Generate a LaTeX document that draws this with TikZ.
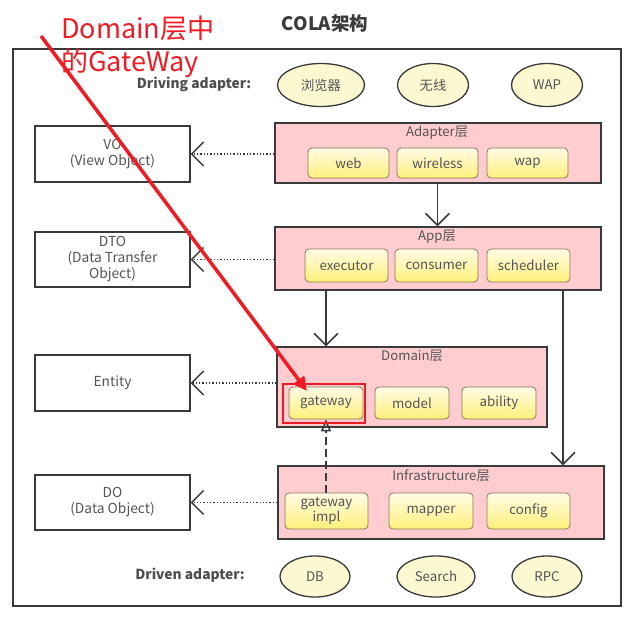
\documentclass[tikz,border=0pt]{standalone}
\usepackage{fontspec}
\setmainfont{Noto Sans CJK SC}
\usetikzlibrary{arrows.meta,shapes.geometric,calc}
\definecolor{txt}{HTML}{555555}
\definecolor{edge}{HTML}{3A3A3A}
\definecolor{layerfill}{HTML}{FFCCCF}
\definecolor{ytop}{HTML}{FFFBE6}
\definecolor{ybot}{HTML}{FFF07A}
\definecolor{yedge}{HTML}{8A7A55}
\definecolor{ellfill}{HTML}{FCF8D2}
\definecolor{redmark}{HTML}{EE1C25}
\tikzset{
  layer/.style={draw=edge, line width=1.3pt, fill=layerfill, inner sep=0pt},
  layertitle/.style={text=txt, font=\fontsize{13.2}{15}\selectfont},
  comp/.style={draw=yedge, line width=0.8pt, rounded corners=4pt, top color=ytop, bottom color=ybot,
     text=txt, font=\fontsize{13.3}{15}\selectfont, align=center, inner sep=0pt},
  objbox/.style={draw=edge, line width=1.2pt, minimum width=155pt, text=txt,
     font=\fontsize{13.8}{16}\selectfont, align=center, inner sep=0pt},
  adapt/.style={ellipse, draw=edge, line width=1.3pt, fill=ellfill, text=txt,
     font=\fontsize{13.3}{15}\selectfont, inner sep=0pt, minimum height=43pt},
  bold label/.style={text=edge!90, font=\bfseries\fontsize{13.8}{16}\selectfont},
  barb/.tip={Straight Barb[length=12pt,width=24pt,line width=1.5pt]},
  flow/.style={draw=edge, line width=1.4pt, -barb},
  dep/.style={draw=edge, line width=1.3pt, dotted, -barb},
  impl/.style={draw=edge, line width=1.4pt, dash pattern=on 8pt off 4pt, -{Triangle[open,length=12pt,width=10pt,line width=1.5pt]}},
}
\begin{document}
\begin{tikzpicture}[x=1pt,y=-1pt]
\useasboundingbox (0,0) rectangle (631,619);
\fill[white] (0,0) rectangle (631,619);

% title and frame
\node[font=\bfseries\fontsize{18.5}{20}\selectfont, text=edge] (title) at (325,23) {COLA架构};
\draw[edge, line width=1.4pt] (13,49) rectangle (621,606);

% driving adapters
\node[bold label] (driving) at (194,84) {Driving adapter:};
\node[adapt, minimum width=87pt] (browser) at (321,85) {浏览器};
\node[adapt, minimum width=71pt] (wireless0) at (433,85) {无线};
\node[adapt, minimum width=71pt] (wapc) at (547,85) {WAP};

% layers
\node[layer, minimum width=326pt, minimum height=60pt] (adapter) at (438,153) {};
\node[layertitle] (adaptert) at (437,133) {Adapter层};
\node[comp, minimum width=81pt, minimum height=30pt] (web) at (348.5,163) {web};
\node[comp, minimum width=81pt, minimum height=30pt] (wirelessc) at (437.5,163) {wireless};
\node[comp, minimum width=81pt, minimum height=30pt] (wap) at (527.5,163) {wap};

\node[layer, minimum width=326pt, minimum height=63pt] (app) at (438,258.5) {};
\node[layertitle] (appt) at (437,237) {App层};
\node[comp, minimum width=83pt, minimum height=33pt] (executor) at (346.5,265.5) {executor};
\node[comp, minimum width=83pt, minimum height=33pt] (consumer) at (436.5,265.5) {consumer};
\node[comp, minimum width=83pt, minimum height=33pt] (scheduler) at (528.5,265.5) {scheduler};

\node[layer, minimum width=270pt, minimum height=80pt] (domain) at (412,387) {};
\node[layertitle] (domaint) at (412,356) {Domain层};
\node[comp, minimum width=74pt, minimum height=32pt] (gateway) at (326,403) {gateway};
\node[comp, minimum width=74pt, minimum height=32pt] (model) at (412,403) {model};
\node[comp, minimum width=74pt, minimum height=32pt] (ability) at (499,403) {ability};

\node[layer, minimum width=326pt, minimum height=73pt] (infra) at (441,502.5) {};
\node[layertitle] (infrat) at (441,476) {Infrastructure层};
\node[comp, minimum width=83pt, minimum height=36pt, font=\fontsize{13.3}{15}\selectfont] (gwimpl) at (326.5,511) {gateway\\impl};
\node[comp, minimum width=84pt, minimum height=36pt] (mapper) at (431,511) {mapper};
\node[comp, minimum width=83pt, minimum height=36pt] (config) at (528.5,511) {config};

% driven adapters
\node[bold label] (driven) at (190,575) {Driven adapter:};
\node[adapt, minimum width=70pt, minimum height=41pt] (db) at (315,576.5) {DB};
\node[adapt, minimum width=78pt, minimum height=41pt] (search) at (436,576.5) {Search};
\node[adapt, minimum width=70pt, minimum height=41pt] (rpc) at (547,576.5) {RPC};

% object boxes
\node[objbox, minimum height=56pt] (vo) at (112.5,154) {VO\\(View Object)};
\node[objbox, minimum height=55pt] (dto) at (112.5,259.5) {DTO\\(Data Transfer\\Object)};
\node[objbox, minimum height=56pt] (entity) at (112.5,383) {Entity};
\node[objbox, minimum height=55pt] (do) at (112.5,502.5) {DO\\(Data Object)};

% connectors
\coordinate (rightline) at (563,0);
\draw[flow] (adapter.south -| wirelessc) -- (app.north -| wirelessc);
\draw[flow] (app.south -| gateway) -- (domain.north -| gateway);
\draw[flow] (app.south -| rightline) -- (infra.north -| rightline);
\draw[impl] (gwimpl.north -| gateway) -- (gateway.south);

\draw[dep] (adapter.west |- vo) -- (vo.east);
\draw[dep] (app.west |- dto) -- (dto.east);
\draw[dep] (domain.west |- entity) -- (entity.east);
\draw[dep] (infra.west |- do) -- (do.east);

% red annotation
\node[anchor=north west, text=redmark, font=\fontsize{27}{33}\selectfont, align=left, inner sep=0pt] (note) at (61,16) {Domain层中\\的GateWay};
\coordinate (redstart) at (41,36);
\node[draw=redmark, line width=1.6pt, minimum width=82pt, minimum height=39pt, inner sep=0pt] (redbox) at (324,403.5) {};
\coordinate (redtip) at (307,391);
\draw[redmark, line width=3.5pt, -{Triangle[length=14pt,width=13pt]}] (redstart) -- (redtip);
\end{tikzpicture}
\end{document}
